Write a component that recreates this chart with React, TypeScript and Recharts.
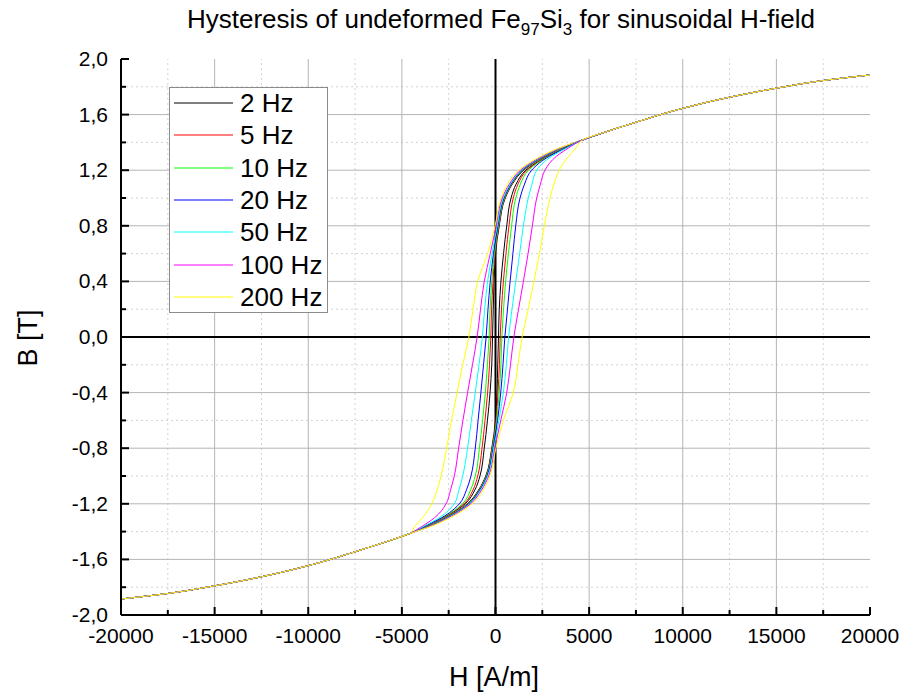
import { LineChart, Line, XAxis, YAxis, ReferenceLine } from 'recharts'

const FONT = "'Liberation Sans', Arial, Helvetica, sans-serif"

// axis ticks (major every 5000 A/m and 0.4 T, minor halfway)
const H_TICKS = [-20000, -17500, -15000, -12500, -10000, -7500, -5000, -2500, 0, 2500, 5000, 7500, 10000, 12500, 15000, 17500, 20000]
const B_TICKS = [-2, -1.8, -1.6, -1.4, -1.2, -1, -0.8, -0.6, -0.4, -0.2, 0, 0.2, 0.4, 0.6, 0.8, 1, 1.2, 1.4, 1.6, 1.8, 2]

// saturated tails, shared by every frequency
const TAIL_POS_H = [20000, 17500, 15000, 12500, 10000, 7500, 6000]
const TAIL_POS_B = [1.885, 1.845, 1.79, 1.725, 1.645, 1.545, 1.48]
const TAIL_NEG_H = [-6000, -7500, -10000, -12500, -15000, -17500, -20000]
const TAIL_NEG_B = [-1.48, -1.545, -1.645, -1.725, -1.79, -1.845, -1.885]

const LOOP_B = [1.415, 1.36, 1.3, 1.2, 1.1, 1.0, 0.8, 0.6, 0.4, 0.2, 0, -0.2, -0.4, -0.6, -0.8, -1.0, -1.1, -1.2, -1.3, -1.36, -1.415]

// H [A/m] of the descending / ascending branch at each LOOP_B level
const DESC_2HZ = [4600, 3550, 2650, 1500, 900, 520, 200, 0, -80, -120, -160, -200, -290, -430, -600, -830, -1100, -1620, -2780, -3700, -4600]
const ASC_2HZ = [4600, 3700, 2780, 1620, 1100, 830, 600, 430, 290, 200, 160, 120, 80, 0, -200, -520, -900, -1500, -2650, -3550, -4600]
const DESC_5HZ = [4600, 3530, 2620, 1470, 880, 500, 180, -30, -130, -210, -250, -320, -420, -560, -720, -950, -1200, -1680, -2800, -3720, -4600]
const ASC_5HZ = [4600, 3720, 2800, 1680, 1200, 950, 720, 560, 420, 320, 250, 210, 130, 30, -180, -500, -880, -1470, -2620, -3530, -4600]
const DESC_10HZ = [4600, 3510, 2600, 1450, 860, 480, 160, -60, -200, -290, -340, -430, -540, -690, -860, -1080, -1330, -1760, -2830, -3740, -4600]
const ASC_10HZ = [4600, 3740, 2830, 1760, 1330, 1080, 860, 690, 540, 430, 340, 290, 200, 60, -160, -480, -860, -1450, -2600, -3510, -4600]
const DESC_20HZ = [4600, 3490, 2570, 1420, 830, 450, 130, -110, -280, -400, -500, -640, -780, -930, -1080, -1310, -1550, -1930, -2870, -3760, -4600]
const ASC_20HZ = [4600, 3760, 2870, 1930, 1550, 1310, 1080, 930, 780, 640, 500, 400, 280, 110, -130, -450, -830, -1420, -2570, -3490, -4600]
const DESC_50HZ = [4600, 3470, 2540, 1380, 790, 410, 90, -180, -420, -580, -700, -880, -1080, -1290, -1490, -1750, -1950, -2200, -3000, -3800, -4600]
const ASC_50HZ = [4600, 3800, 3000, 2200, 1950, 1750, 1490, 1290, 1080, 880, 700, 580, 420, 180, -90, -410, -790, -1380, -2540, -3470, -4600]
const DESC_100HZ = [4600, 3450, 2500, 1330, 740, 360, 40, -280, -600, -800, -980, -1230, -1490, -1740, -1970, -2200, -2400, -2640, -3250, -3900, -4600]
const ASC_100HZ = [4600, 3900, 3250, 2640, 2400, 2200, 1970, 1740, 1490, 1230, 980, 800, 600, 280, -40, -360, -740, -1330, -2500, -3450, -4600]
const DESC_200HZ = [4600, 3400, 2420, 1250, 650, 300, -20, -420, -950, -1200, -1420, -1750, -2050, -2350, -2610, -2910, -3120, -3400, -3900, -4300, -4600]
const ASC_200HZ = [4600, 4300, 3900, 3400, 3120, 2910, 2610, 2350, 2050, 1750, 1420, 1200, 950, 420, 20, -300, -650, -1250, -2420, -3400, -4600]

const SERIES = [
  { name: '2 Hz',   color: '#000000', desc: DESC_2HZ,   asc: ASC_2HZ },
  { name: '5 Hz',   color: '#ff0000', desc: DESC_5HZ,   asc: ASC_5HZ },
  { name: '10 Hz',  color: '#00ff00', desc: DESC_10HZ,  asc: ASC_10HZ },
  { name: '20 Hz',  color: '#0000ff', desc: DESC_20HZ,  asc: ASC_20HZ },
  { name: '50 Hz',  color: '#00ffff', desc: DESC_50HZ,  asc: ASC_50HZ },
  { name: '100 Hz', color: '#ff00ff', desc: DESC_100HZ, asc: ASC_100HZ },
  { name: '200 Hz', color: '#ffff00', desc: DESC_200HZ, asc: ASC_200HZ },
]

// one branch, ordered by falling B so monotoneY can smooth it
const branch = (hs: number[]) => [
  ...TAIL_POS_H.map((h, i) => ({ h, b: TAIL_POS_B[i] })),
  ...hs.map((h, i) => ({ h, b: LOOP_B[i] })),
  ...TAIL_NEG_H.map((h, i) => ({ h, b: TAIL_NEG_B[i] })),
]

const isMajorH = (v: number) => v % 5000 === 0
const isMajorB = (v: number) => Math.round(v * 10) % 4 === 0
const fmtB = (v: number) => v.toFixed(1).replace('.', ',')

const GAP_X = 12
const GAP_Y = 13
const MAJOR_LEN = 8
const MINOR_LEN = 5

function BottomTick({ x, y, payload }: any) {
  const v = payload.value
  const base = y - GAP_X
  const len = isMajorH(v) ? MAJOR_LEN : MINOR_LEN
  return (
    <g>
      <line x1={x} x2={x} y1={base} y2={base - len} stroke="#000" strokeWidth={2} />
      {isMajorH(v) && (
        <text x={x} y={y} dy={16} textAnchor="middle" fontSize={21} fontFamily={FONT} fill="#000">{v}</text>
      )}
    </g>
  )
}

function LeftTick({ x, y, payload }: any) {
  const v = payload.value
  const base = x + GAP_Y
  const len = isMajorB(v) ? MAJOR_LEN : MINOR_LEN
  return (
    <g>
      <line x1={base} x2={base + len} y1={y} y2={y} stroke="#000" strokeWidth={2} />
      {isMajorB(v) && (
        <text x={x} y={y} dy={7} textAnchor="end" fontSize={21} fontFamily={FONT} fill="#000">{fmtB(v)}</text>
      )}
    </g>
  )
}

function TopTick({ x, y, payload }: any) {
  const len = isMajorH(payload.value) ? MAJOR_LEN : MINOR_LEN
  return <line x1={x} x2={x} y1={y} y2={y + len} stroke="#000" strokeWidth={2} />
}

function RightTick({ x, y, payload }: any) {
  const len = isMajorB(payload.value) ? MAJOR_LEN : MINOR_LEN
  return <line x1={x} x2={x - len} y1={y} y2={y} stroke="#000" strokeWidth={2} />
}

const inner = (v: number) => v !== 0 && Math.abs(v) !== 20000 && Math.abs(v) !== 2
const H_MAJOR_GRID = H_TICKS.filter(v => inner(v) && isMajorH(v))
const H_MINOR_GRID = H_TICKS.filter(v => inner(v) && !isMajorH(v))
const B_MAJOR_GRID = B_TICKS.filter(v => inner(v) && isMajorB(v))
const B_MINOR_GRID = B_TICKS.filter(v => inner(v) && !isMajorB(v))

function LegendBox() {
  return (
    <g>
      <rect x={169.5} y={87.5} width={158} height={225} fill="#fff" stroke="#8c8c8c" strokeWidth={1} />
      {SERIES.map((s, i) => {
        const cy = Math.round(103 + i * 32.3)
        return (
          <g key={s.name}>
            <line x1={174} x2={233} y1={cy} y2={cy} stroke={s.color} strokeWidth={1.2} />
            <text x={240} y={cy + 9} fontSize={26} fontFamily={FONT} fill="#000">{s.name}</text>
          </g>
        )
      })}
    </g>
  )
}

export default function App() {
  return (
    <div style={{ position: 'absolute', left: 0, top: 0, width: 905, height: 694, background: '#fff', overflow: 'hidden' }}>
      <LineChart width={905} height={694} margin={{ top: 59, right: 35, bottom: 0, left: 0 }}>
        <XAxis
          dataKey="h" type="number" domain={[-20000, 20000]} ticks={H_TICKS} interval={0}
          height={79} tickSize={0} tickMargin={GAP_X} tick={<BottomTick />} tickLine={false}
          axisLine={{ stroke: '#000', strokeWidth: 2 }} allowDataOverflow
        />
        <XAxis
          xAxisId="top" orientation="top" dataKey="h" type="number" domain={[-20000, 20000]} ticks={H_TICKS}
          interval={0} height={0} tickSize={0} tickMargin={0} tick={<TopTick />} tickLine={false}
          axisLine={{ stroke: '#000', strokeWidth: 2 }} allowDataOverflow
        />
        <YAxis
          dataKey="b" type="number" domain={[-2, 2]} ticks={B_TICKS} interval={0}
          width={121} tickSize={0} tickMargin={GAP_Y} tick={<LeftTick />} tickLine={false}
          axisLine={{ stroke: '#000', strokeWidth: 2 }} allowDataOverflow
        />
        <YAxis
          yAxisId="right" orientation="right" type="number" domain={[-2, 2]} ticks={B_TICKS} interval={0}
          width={0} tickSize={0} tickMargin={0} tick={<RightTick />} tickLine={false}
          axisLine={{ stroke: '#000', strokeWidth: 2 }} allowDataOverflow
        />
        {H_MINOR_GRID.map(v => <ReferenceLine key={'hm' + v} x={v} stroke="#d2d2d2" strokeDasharray="2 3" />)}
        {B_MINOR_GRID.map(v => <ReferenceLine key={'bm' + v} y={v} stroke="#d2d2d2" strokeDasharray="2 3" />)}
        {H_MAJOR_GRID.map(v => <ReferenceLine key={'hM' + v} x={v} stroke="#b4b4b4" />)}
        {B_MAJOR_GRID.map(v => <ReferenceLine key={'bM' + v} y={v} stroke="#b4b4b4" />)}
        <ReferenceLine x={0} stroke="#000" strokeWidth={2} />
        <ReferenceLine y={0} stroke="#000" strokeWidth={2} />
        {SERIES.map(s => (
          <Line key={s.name + 'd'} data={branch(s.desc)} dataKey="b" type="monotoneY" stroke={s.color}
                strokeWidth={1} dot={false} activeDot={false} isAnimationActive={false} />
        ))}
        {SERIES.map(s => (
          <Line key={s.name + 'a'} data={branch(s.asc)} dataKey="b" type="monotoneY" stroke={s.color}
                strokeWidth={1} dot={false} activeDot={false} isAnimationActive={false} />
        ))}
      </LineChart>
      <svg width={905} height={694} style={{ position: 'absolute', left: 0, top: 0, pointerEvents: 'none' }}>
        <text x={501} y={28} textAnchor="middle" fontSize={26} fontFamily={FONT} fill="#000">
          Hysteresis of undeformed Fe
          <tspan fontSize={17} dy={7}>97</tspan>
          <tspan dy={-7}>Si</tspan>
          <tspan fontSize={17} dy={7}>3</tspan>
          <tspan dy={-7}>{' for sinusoidal H-field'}</tspan>
        </text>
        <text x={494} y={686} textAnchor="middle" fontSize={27} fontFamily={FONT} fill="#000">H [A/m]</text>
        <text transform="translate(37, 338) rotate(-90)" textAnchor="middle" fontSize={27} fontFamily={FONT} fill="#000">B [T]</text>
        <LegendBox />
      </svg>
    </div>
  )
}
